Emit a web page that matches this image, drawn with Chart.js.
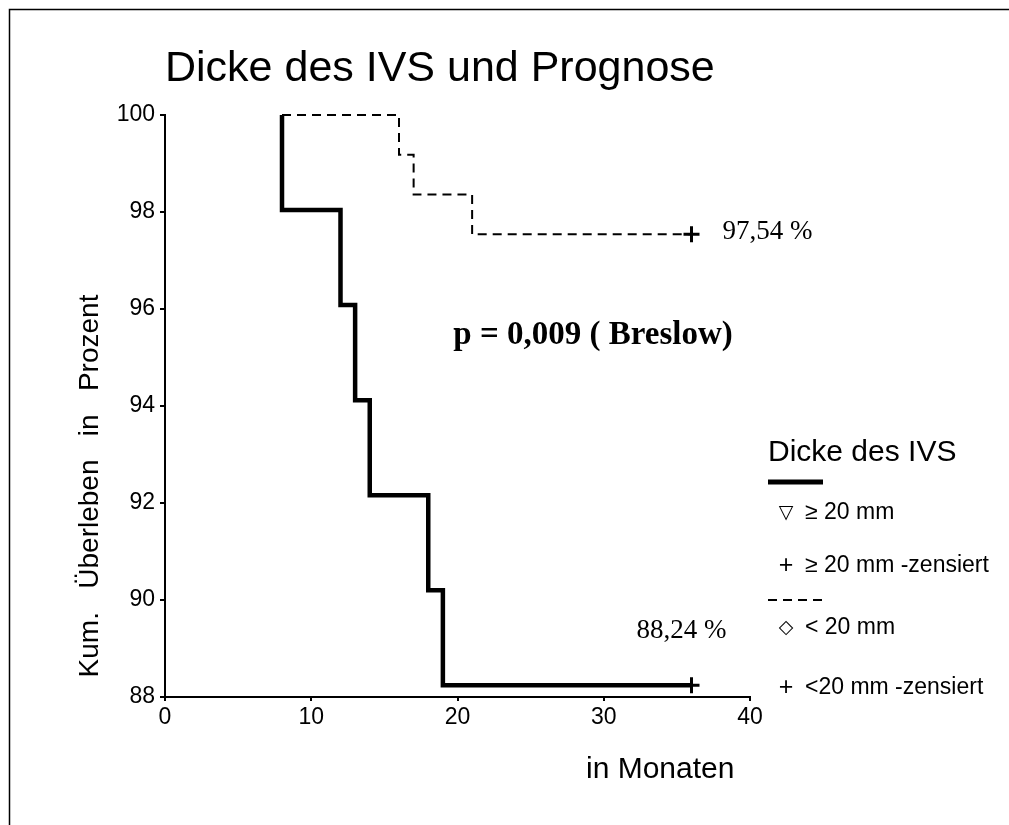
<!DOCTYPE html>
<html>
<head>
<meta charset="utf-8">
<script src="https://cdn.jsdelivr.net/npm/chart.js@4.4.1/dist/chart.umd.min.js"></script>
<style>
  html, body { margin: 0; padding: 0; background: #fff; }
  #wrap { width: 1009px; height: 825px; position: relative; }
</style>
</head>
<body>
<div id="wrap"><canvas id="km"></canvas></div>
<script>
/* ── Data ───────────────────────────────────────────────────────────────── */

// IVS >= 20 mm (thick solid step curve)
const thickMonths   = [8, 8, 12, 13, 14, 18, 19, 36];
const thickSurvival = [100, 98.04, 96.08, 94.12, 92.16, 90.20, 88.24, 88.24];

// IVS < 20 mm (dashed step curve)
const thinMonths    = [8, 16, 17, 21, 36];
const thinSurvival  = [100, 99.18, 98.36, 97.54, 97.54];

// censored end points (+)
const censorMonths   = [36, 36];
const censorSurvival = [88.24, 97.54];

const yTicks = [88, 90, 92, 94, 96, 98, 100];
const xTicks = [0, 10, 20, 30, 40];

const TITLE      = 'Dicke des IVS und Prognose';
const Y_TITLE    = 'Kum.   Überleben   in   Prozent';
const X_TITLE    = 'in Monaten';
const P_TEXT     = 'p = 0,009 ( Breslow)';
const END_LABELS = ['88,24 %', '97,54 %'];

const LEGEND_TITLE = 'Dicke des IVS';
const LEGEND_ROWS  = [
    { sym: '▽', text: '≥ 20 mm' },
    { sym: '+', text: '≥ 20 mm -zensiert' },
    { sym: '◇', text: '< 20 mm' },
    { sym: '+', text: '<20 mm -zensiert' },
];

/* ── Helpers ────────────────────────────────────────────────────────────── */

const SANS  = "'Liberation Sans', Arial, sans-serif";
const SERIF = "'Liberation Serif', 'Times New Roman', serif";
const toPoints = (xs, ys) => xs.map((x, i) => ({ x, y: ys[i] }));

// Frame, titles, annotations and the hand-made legend
const decorations = {
    id: 'decorations',
    beforeDraw(chart) {
        const { ctx, width, height } = chart;
        ctx.save();
        ctx.fillStyle = '#fff';
        ctx.fillRect(0, 0, width, height);
        ctx.restore();
    },
    afterDraw(chart) {
        const { ctx, scales: { x, y } } = chart;
        ctx.save();

        // outer frame (left and top only)
        ctx.strokeStyle = '#000';
        ctx.lineWidth = 1.5;
        ctx.beginPath();
        ctx.moveTo(9.5, chart.height);
        ctx.lineTo(9.5, 9.5);
        ctx.lineTo(chart.width, 9.5);
        ctx.stroke();

        ctx.fillStyle = '#000';

        // title
        ctx.font = `43px ${SANS}`;
        ctx.textAlign = 'left';
        ctx.textBaseline = 'alphabetic';
        ctx.fillText(TITLE, 165, 81);

        // y axis title
        ctx.save();
        ctx.translate(90, 486);
        ctx.rotate(-Math.PI / 2);
        ctx.font = `28px ${SANS}`;
        ctx.textAlign = 'center';
        ctx.textBaseline = 'middle';
        ctx.fillText(Y_TITLE, 0, 0);
        ctx.restore();

        // x axis title
        ctx.font = `30px ${SANS}`;
        ctx.textAlign = 'left';
        ctx.textBaseline = 'middle';
        ctx.fillText(X_TITLE, 586, 770);

        // p value
        ctx.font = `bold 33px ${SERIF}`;
        ctx.textAlign = 'center';
        ctx.fillText(P_TEXT, 593, 335);

        // end labels
        ctx.font = `27px ${SERIF}`;
        ctx.textAlign = 'left';
        ctx.fillText(END_LABELS[0], x.getPixelForValue(36) - 55, y.getPixelForValue(censorSurvival[0]) - 54);
        ctx.fillText(END_LABELS[1], x.getPixelForValue(36) + 31, y.getPixelForValue(censorSurvival[1]) - 2);

        // legend
        const lx = 768;
        ctx.font = `30px ${SANS}`;
        ctx.textBaseline = 'alphabetic';
        ctx.fillText(LEGEND_TITLE, lx, 461);

        ctx.lineWidth = 5;
        ctx.beginPath();
        ctx.moveTo(lx, 482);
        ctx.lineTo(lx + 55, 482);
        ctx.stroke();

        ctx.lineWidth = 2;
        ctx.setLineDash([9, 6]);
        ctx.beginPath();
        ctx.moveTo(lx, 600);
        ctx.lineTo(lx + 55, 600);
        ctx.stroke();
        ctx.setLineDash([]);

        const rowY = [513, 566, 628, 688];
        ctx.textBaseline = 'middle';
        LEGEND_ROWS.forEach((row, i) => {
            ctx.textAlign = 'center';
            ctx.font = row.sym === '+' ? `25px ${SANS}` : `bold 19px 'DejaVu Sans', sans-serif`;
            ctx.fillText(row.sym, 786, rowY[i]);
            ctx.textAlign = 'left';
            ctx.font = `23px ${SANS}`;
            ctx.fillText(row.text, 805, rowY[i]);
        });

        ctx.restore();
    },
};

/* ── Chart ──────────────────────────────────────────────────────────────── */

Chart.defaults.font.family = SANS;
Chart.defaults.color = '#000';

new Chart(document.getElementById('km'), {
    type: 'line',
    data: {
        datasets: [
            {
                label: '≥ 20 mm',
                data: toPoints(thickMonths, thickSurvival),
                stepped: 'before',
                borderColor: '#000',
                borderWidth: 4.5,
                pointRadius: 0,
                fill: false,
                clip: false,
            },
            {
                label: '< 20 mm',
                data: toPoints(thinMonths, thinSurvival),
                stepped: 'before',
                borderColor: '#000',
                borderWidth: 2,
                borderDash: [9, 6],
                pointRadius: 0,
                fill: false,
                clip: false,
            },
            {
                label: 'zensiert',
                data: toPoints(censorMonths, censorSurvival),
                showLine: false,
                pointStyle: 'cross',
                pointRadius: 8,
                borderColor: '#000',
                borderWidth: 3,
                clip: false,
            },
        ],
    },
    options: {
        responsive: true,
        maintainAspectRatio: false,
        animation: false,
        layout: { padding: { left: 103, top: 115, right: 259, bottom: 88 } },
        plugins: {
            legend: { display: false },
            tooltip: { enabled: false },
        },
        scales: {
            x: {
                type: 'linear',
                min: xTicks[0],
                max: xTicks[xTicks.length - 1],
                afterFit(scale) { scale.height = 40; },
                afterBuildTicks(scale) { scale.ticks = xTicks.map(v => ({ value: v })); },
                border: { display: true, color: '#000', width: 2 },
                grid: { drawOnChartArea: false, drawTicks: true, tickLength: 4, color: '#000', lineWidth: 2 },
                ticks: { font: { size: 23 }, color: '#000', padding: 3 },
            },
            y: {
                type: 'linear',
                min: yTicks[0],
                max: yTicks[yTicks.length - 1],
                afterFit(scale) { scale.width = 62; },
                afterBuildTicks(scale) { scale.ticks = yTicks.map(v => ({ value: v })); },
                border: { display: true, color: '#000', width: 2 },
                grid: { drawOnChartArea: false, drawTicks: true, tickLength: 5, color: '#000', lineWidth: 2 },
                ticks: { font: { size: 23 }, color: '#000', padding: 5 },
            },
        },
    },
    plugins: [decorations],
});
</script>
</body>
</html>
